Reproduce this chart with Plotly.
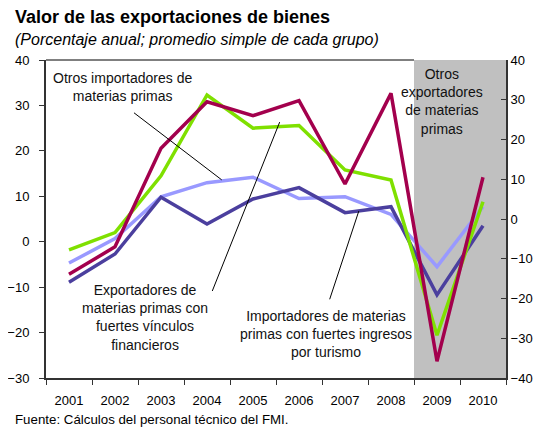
import plotly.graph_objects as go

years = ["2001", "2002", "2003", "2004", "2005", "2006", "2007", "2008", "2009", "2010"]

# Left axis series
exp_vinculos = [-1.8, 2.0, 14.5, 32.3, 25.0, 25.6, 15.8, 13.6, -20.6, 8.8]       # green
otros_importadores = [-4.7, 0.7, 9.9, 13.0, 14.2, 9.5, 9.9, 6.0, -5.5, 7.7]       # light blue
imp_turismo = [-8.9, -2.7, 9.8, 3.9, 9.4, 11.9, 6.4, 7.7, -11.7, 3.5]            # dark purple
# Right axis series
otros_exportadores = [-13.9, -7.0, 17.8, 29.5, 26.0, 29.8, 8.8, 31.6, -35.8, 10.5]  # crimson

left_ticks = [-30, -20, -10, 0, 10, 20, 30, 40]
right_ticks = [-40, -30, -20, -10, 0, 10, 20, 30, 40]

FONT = "Arial, Liberation Sans, sans-serif"

fig = go.Figure()
fig.add_trace(go.Scatter(x=years, y=otros_importadores, mode="lines",
                         line=dict(color="#9999FF", width=3.5), name="Otros importadores de materias primas"))
fig.add_trace(go.Scatter(x=years, y=imp_turismo, mode="lines",
                         line=dict(color="#4B3F9E", width=3.5), name="Importadores con turismo"))
fig.add_trace(go.Scatter(x=years, y=otros_exportadores, mode="lines", yaxis="y2",
                         line=dict(color="#A3004D", width=3.5), name="Otros exportadores de materias primas"))
fig.add_trace(go.Scatter(x=years, y=exp_vinculos, mode="lines",
                         line=dict(color="#7FE000", width=3.5), name="Exportadores con vínculos financieros"))

shapes = [
    dict(type="rect", xref="x", yref="paper", x0=7.5, x1=9.5, y0=0, y1=1,
         fillcolor="#C0C0C0", line=dict(width=0), layer="below"),
    dict(type="line", xref="paper", yref="paper", x0=0, x1=0.8, y0=1, y1=1,
         line=dict(color="black", width=1), layer="below"),
    # pointer lines
    dict(type="line", xref="paper", yref="paper", x0=0.1913, y0=0.834, x1=0.382, y1=0.623,
         line=dict(color="black", width=1)),
    dict(type="line", xref="paper", yref="paper", x0=0.3615, y0=0.2736, x1=0.508, y1=0.8047,
         line=dict(color="black", width=1)),
    dict(type="line", xref="paper", yref="paper", x0=0.6167, y0=0.2475, x1=0.680, y1=0.525,
         line=dict(color="black", width=1)),
]

lab = dict(size=14, color="#111111", family=FONT)
annotations = [
    dict(text="<b>Valor de las exportaciones de bienes</b>", xref="paper", yref="paper",
         x=-0.0717, y=1.135, xanchor="left", yanchor="middle", showarrow=False,
         font=dict(size=18, color="black", family=FONT)),
    dict(text="<i>(Porcentaje anual; promedio simple de cada grupo)</i>", xref="paper", yref="paper",
         x=-0.0717, y=1.066, xanchor="left", yanchor="middle", showarrow=False,
         font=dict(size=16, color="black", family=FONT)),
    dict(text="Fuente: Cálculos del personal técnico del FMI.", xref="paper", yref="paper",
         x=-0.0717, y=-0.132, xanchor="left", yanchor="middle", showarrow=False,
         font=dict(size=13.3, color="black", family=FONT)),
    dict(text="Otros importadores de<br>materias primas", xref="paper", yref="paper",
         x=0.166, y=0.916, xanchor="center", yanchor="middle", showarrow=False, font=lab),
    dict(text="Exportadores de<br>materias primas con<br>fuertes vínculos<br>financieros", xref="paper", yref="paper",
         x=0.2163, y=0.190, xanchor="center", yanchor="middle", showarrow=False, font=lab),
    dict(text="Importadores de materias<br>primas con fuertes ingresos<br>por turismo", xref="paper", yref="paper",
         x=0.609, y=0.139, xanchor="center", yanchor="middle", showarrow=False, font=lab),
    dict(text="Otros<br>exportadores<br>de materias<br>primas", xref="paper", yref="paper",
         x=0.861, y=0.8686, xanchor="center", yanchor="middle", showarrow=False, font=lab),
]

fig.update_layout(
    width=538, height=422,
    margin=dict(l=38, r=40, t=52, b=52),
    paper_bgcolor="white", plot_bgcolor="white",
    showlegend=False,
    font=dict(family=FONT, size=13, color="black"),
    shapes=shapes,
    annotations=annotations,
    xaxis=dict(type="category", range=[-0.5, 9.5], tickson="boundaries", automargin=False,
               ticks="outside", ticklen=5, tickcolor="#333333", ticklabelstandoff=9,
               showline=True, linecolor="#333333", linewidth=2,
               showgrid=False, zeroline=False, tickfont=dict(size=13)),
    yaxis=dict(range=[-30, 40], tickvals=left_ticks, ticks="outside", ticklen=5, automargin=False,
               tickcolor="#333333", showline=True, linecolor="#333333", linewidth=2,
               ticklabelstandoff=7,
               showgrid=False, zeroline=False, tickfont=dict(size=13)),
    yaxis2=dict(range=[-40, 40], tickvals=right_ticks, overlaying="y", side="right", automargin=False,
                ticks="inside", ticklen=5, tickcolor="#333333", showline=True,
                linecolor="#333333", linewidth=2, showgrid=False, zeroline=False,
                tickfont=dict(size=13)),
)

fig.write_html("out.html")
